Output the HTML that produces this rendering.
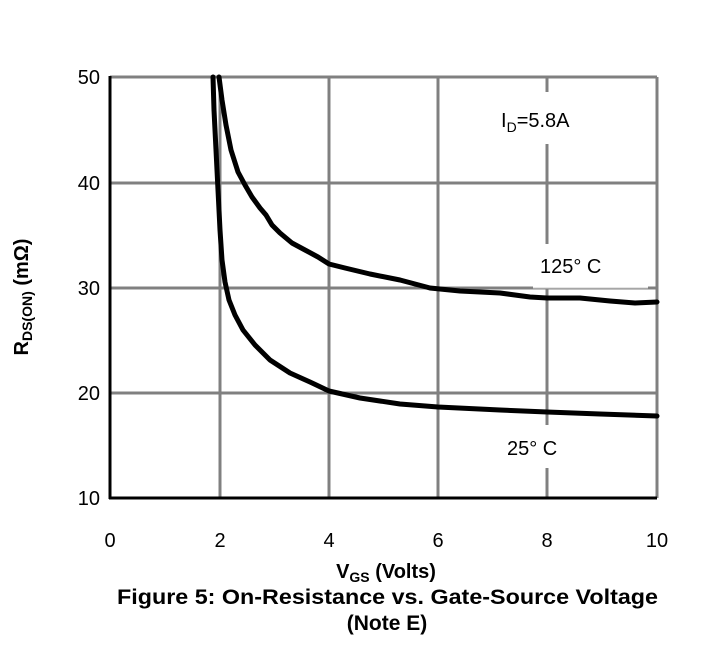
<!DOCTYPE html>
<html><head><style>body{margin:0;background:#fff}</style></head><body>
<svg width="715" height="652" xmlns="http://www.w3.org/2000/svg" font-family="Liberation Sans, sans-serif">
<g stroke="#808080" stroke-width="3">
<line x1="110" y1="77" x2="657" y2="77"/><line x1="110" y1="183" x2="657" y2="183"/>
<line x1="110" y1="288" x2="657" y2="288"/><line x1="110" y1="393" x2="657" y2="393"/>
<line x1="220" y1="77" x2="220" y2="498"/><line x1="329" y1="77" x2="329" y2="498"/>
<line x1="438" y1="77" x2="438" y2="498"/><line x1="547" y1="77" x2="547" y2="498"/>
<line x1="657" y1="77" x2="657" y2="498"/>
</g>
<rect x="492" y="92" width="100" height="52" fill="#fff"/>
<rect x="533" y="244" width="115" height="43.5" fill="#fff"/>
<line x1="533" y1="288" x2="648" y2="288" stroke="#ccc" stroke-width="1"/>
<rect x="500" y="425" width="80" height="43" fill="#fff"/>
<g stroke="#000" stroke-width="3"><line x1="110" y1="76" x2="110" y2="499"/><line x1="109" y1="498" x2="657" y2="498"/></g>
<g fill="none" stroke="#000" stroke-width="5" stroke-linejoin="round" stroke-linecap="round">
<polyline points="213,77 214,110 216,150 218,190 220,230 222,260 225,282 229,300 235,315 243,330 255,345 270,360 290,373 310,382 329,391 360,398 400,404 438,407 500,410 547,412 600,414 657,416"/>
<polyline points="219,77 222,100 226,125 231,150 238,172 245,185 252,197 260,208 266,215 272,225 280,233 292,243 305,250 318,257 329,264 345,268 370,274 400,280 430,288 460,291 500,293 530,297 547,298 580,298 610,301 635,303 657,302"/>
</g>
<g font-size="20" fill="#000">
<text x="100" y="84" text-anchor="end">50</text><text x="100" y="190" text-anchor="end">40</text>
<text x="100" y="295" text-anchor="end">30</text><text x="100" y="400" text-anchor="end">20</text>
<text x="100" y="505" text-anchor="end">10</text>
<text x="110" y="547" text-anchor="middle">0</text><text x="220" y="547" text-anchor="middle">2</text>
<text x="329" y="547" text-anchor="middle">4</text><text x="438" y="547" text-anchor="middle">6</text>
<text x="547" y="547" text-anchor="middle">8</text><text x="657" y="547" text-anchor="middle">10</text>
<text x="501" y="127">I<tspan font-size="14" dy="5">D</tspan><tspan dy="-5">=5.8A</tspan></text>
<text x="540" y="273">125°  C</text>
<text x="507" y="455">25°  C</text>
</g>
<g font-weight="bold" fill="#000">
<text x="386" y="578" font-size="20" text-anchor="middle">V<tspan font-size="14" dy="4">GS</tspan><tspan dy="-4"> (Volts)</tspan></text>
<text transform="translate(28,297) rotate(-90)" font-size="20" text-anchor="middle">R<tspan font-size="14" dy="4">DS(ON)</tspan><tspan dy="-4"> (mΩ)</tspan></text>
<text x="117" y="604" font-size="21" textLength="541" lengthAdjust="spacingAndGlyphs">Figure 5: On-Resistance vs. Gate-Source Voltage</text>
<text x="387" y="630" font-size="21" text-anchor="middle">(Note E)</text>
</g>
</svg>
</body></html>
